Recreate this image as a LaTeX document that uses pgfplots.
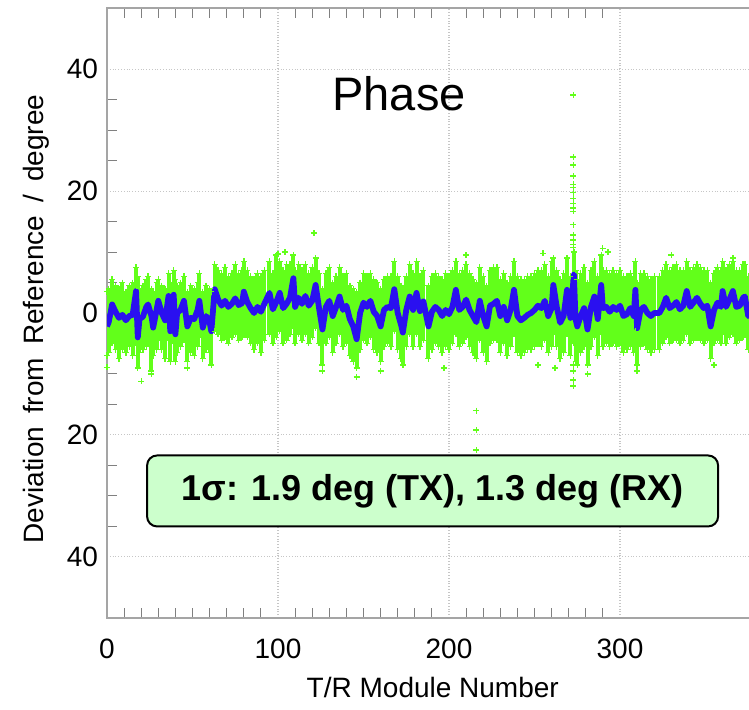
\documentclass[border=0pt]{standalone}
\usepackage{pgfplots}
\pgfplotsset{compat=1.18}
\usepackage{pgfplotstable}
\usepackage{fontspec}
\setmainfont{Liberation Sans}

\definecolor{ptgreen}{RGB}{98,255,26}
\definecolor{ptblue}{RGB}{42,16,240}
\definecolor{boxgreen}{RGB}{204,255,204}
\definecolor{framegray}{RGB}{165,165,165}

% module, blue running value, green upper / lower extent
\pgfplotstableread{
x b hi lo
0 -2.2 3.5 -7.0
1 -1.5 4.0 -6.5
3 1.4 5.5 -5.0
5 0.2 4.5 -6.0
7 -0.8 4.0 -7.5
9 -0.3 5.0 -6.0
11 -1.2 3.5 -6.5
13 -0.5 4.5 -5.5
15 -0.3 5.0 -7.0
17 3.6 7.5 -5.0
18 -4.0 6.0 -9.0
19 -1.0 4.0 -6.5
21 -0.6 4.5 -6.0
23 1.0 5.5 -5.5
24 1.4 6.0 -5.0
26 -0.5 4.0 -9.5
27 -2.4 3.5 -7.0
29 0.5 5.0 -6.0
30 2.0 5.5 -4.5
32 0.0 4.5 -6.0
34 -1.2 4.0 -7.5
36 2.8 6.5 -4.5
37 -3.0 5.0 -8.0
39 3.0 7.0 -5.0
40 -3.5 5.5 -8.0
41 0.0 4.5 -6.5
43 0.5 5.0 -5.5
45 2.0 6.0 -4.5
47 -2.2 3.5 -8.0
49 -0.8 4.5 -6.5
51 -1.0 4.0 -7.0
53 0.5 5.0 -5.5
54 2.0 6.5 -4.0
56 -2.4 3.5 -7.5
58 -0.5 4.5 -6.0
60 -1.5 4.0 -6.5
61 -3.0 3.5 -8.5
63 3.9 8.0 -3.0
65 2.2 7.0 -3.5
67 1.2 6.5 -4.5
69 2.0 7.5 -4.0
71 1.0 6.0 -5.0
73 1.5 6.5 -4.0
75 2.4 8.0 -3.5
77 1.3 6.5 -4.5
79 1.6 7.0 -4.0
80 3.5 8.5 -3.5
82 1.8 7.0 -4.0
84 0.8 6.0 -5.0
86 0.0 5.5 -6.0
88 1.0 6.5 -5.0
90 0.2 6.0 -6.5
92 1.5 7.0 -4.5
95 3.3 8.5 -3.5
97 0.6 6.5 -5.0
99 1.8 9.5 -4.0
101 3.3 8.5 -3.0
103 0.8 7.0 -5.0
105 1.5 8.0 -4.5
107 2.5 8.0 -3.5
109 5.7 9.5 -2.5
110 1.0 7.0 -5.0
112 2.5 8.0 -3.5
114 1.5 7.0 -4.5
116 2.8 8.0 -3.5
118 1.2 6.5 -5.0
120 2.0 7.5 -4.0
122 4.6 9.0 -2.5
124 0.8 6.5 -5.0
126 -2.7 4.0 -8.5
128 1.0 6.5 -5.0
130 2.0 7.5 -4.0
132 -0.5 5.0 -6.5
134 1.0 6.0 -5.0
136 2.7 7.5 -3.5
138 0.5 6.0 -5.5
140 1.2 6.5 -5.0
142 -1.0 4.5 -7.0
144 -2.2 4.0 -8.0
146 -4.3 3.5 -9.0
148 0.0 5.0 -6.0
150 1.7 6.5 -4.5
152 1.0 6.0 -5.0
154 2.0 6.5 -4.0
156 0.2 5.5 -6.0
158 -0.5 5.0 -6.5
160 -2.2 4.0 -8.0
162 0.5 5.5 -5.5
164 1.0 6.0 -5.0
166 0.8 6.0 -5.5
168 3.9 8.5 -3.0
170 0.0 6.0 -6.0
172 -2.0 4.5 -7.5
173 -3.2 4.0 -8.5
175 0.5 6.0 -5.5
177 2.7 8.0 -3.5
179 0.5 6.5 -5.5
181 3.3 8.5 -3.5
183 0.3 6.0 -5.5
185 1.9 7.0 -4.5
188 -2.2 4.5 -7.5
190 0.2 6.0 -6.0
192 1.0 6.5 -5.0
194 0.5 6.0 -5.5
196 -0.5 5.5 -6.5
198 0.5 6.5 -5.5
200 -0.2 6.0 -6.0
202 1.0 7.0 -5.0
204 3.8 8.5 -3.5
206 0.5 6.5 -5.5
208 1.0 7.0 -5.0
210 2.2 8.0 -4.0
212 0.5 6.5 -5.5
214 -0.5 5.5 -6.5
216 -1.5 5.0 -7.5
218 2.0 7.5 -4.5
220 -0.5 6.0 -6.5
222 -2.2 4.5 -8.0
224 1.2 7.0 -5.0
226 1.5 7.5 -4.5
228 2.0 7.5 -4.5
230 -0.5 5.5 -6.5
232 1.0 6.5 -5.0
234 -1.2 5.0 -7.0
236 0.5 6.0 -5.5
238 3.8 8.5 -3.5
240 -0.5 6.0 -6.5
242 -1.2 5.5 -7.0
244 -0.8 5.5 -6.5
246 -0.3 6.0 -6.0
248 0.0 6.0 -6.0
250 0.5 6.5 -5.5
252 1.2 7.0 -5.0
254 0.8 7.0 -5.5
256 2.0 8.0 -4.5
258 -0.5 6.0 -6.5
260 0.8 8.5 -5.5
261 4.6 9.0 -3.5
263 1.0 7.0 -5.5
265 -1.6 5.5 -7.5
267 -0.5 6.5 -6.5
269 3.8 9.0 -3.5
271 -0.8 6.0 -7.0
273 6.3 10.0 -5.0
274 -1.0 7.0 -8.0
275 -2.2 5.5 -8.5
277 -0.5 6.5 -6.5
279 0.8 7.5 -5.5
281 -2.7 5.0 -8.5
283 1.0 7.0 -5.5
285 2.7 8.5 -4.0
287 -1.0 6.0 -7.0
289 4.6 9.5 -3.5
290 0.8 7.0 -5.5
292 1.0 7.0 -5.0
294 0.2 6.5 -5.5
296 1.0 7.0 -5.0
298 0.5 6.5 -5.5
300 1.2 7.0 -5.0
302 -0.5 6.0 -6.5
304 -0.2 6.0 -6.0
306 0.8 6.5 -5.5
308 -0.5 6.0 -6.5
309 3.8 8.5 -3.0
310 -2.5 5.0 -8.5
312 0.5 6.5 -5.5
314 1.0 6.5 -5.0
316 0.0 6.0 -6.0
318 -0.5 5.5 -6.5
320 0.0 6.0 -6.0
323 0.0 6.0 -6.0
325 1.0 7.0 -5.0
327 2.5 8.0 -4.0
329 0.8 7.0 -5.0
331 1.2 7.5 -4.5
333 1.8 8.0 -4.5
335 0.6 7.0 -5.0
337 1.2 7.0 -4.5
339 3.6 8.5 -3.5
341 1.0 7.0 -5.0
343 1.7 7.5 -4.5
345 2.5 8.0 -4.0
347 1.5 7.5 -4.5
349 0.8 7.0 -5.0
351 1.2 7.0 -4.5
353 -2.2 5.0 -7.5
355 0.5 6.5 -5.0
357 1.7 7.5 -4.5
359 1.0 7.0 -5.0
360 3.6 8.5 -3.5
362 1.0 7.0 -5.0
364 2.2 8.0 -4.0
366 3.6 8.5 -3.5
368 1.0 7.0 -5.0
370 1.2 7.0 -4.5
372 2.5 8.0 -4.0
373 2.7 8.0 -3.5
375 -0.5 6.0 -6.0
377 0.5 6.5 -5.5
}\phase

% isolated green measurements away from the band
\pgfplotstableread{
x y
272.7 35.8
272.7 25.6
272.7 24.3
272.7 22.5
272.7 21.1
272.7 20.6
272.7 19.8
272.7 18.8
272.7 18.0
272.7 17.2
272.7 16.7
272.7 14.5
272.7 12.8
272.7 12.0
272.7 11.2
272.7 10.7
272.7 -8.5
272.7 -9.5
272.7 -11.0
272.7 -12.0
289.8 10.6
216 -16.0
216 -19.2
216 -22.5
121 13.1
0 -8.9
20 -11.2
26 -10.0
47 -9.0
100 9.7
104 10.0
126 -9.5
146 -10.5
160 -9.5
197 -9.0
210 9.5
252 -8.5
255 9.8
262 -9.0
281 -10.0
293 10.0
310 -9.5
330 9.5
355 -8.5
366 9.0
}\outliers

\begin{document}
\begin{tikzpicture}
\begin{axis}[
  scale only axis,
  width=323.2pt, height=304.7pt,
  xmin=0, xmax=378, ymin=-50, ymax=50,
  xtick={0,100,200,300},
  ytick={-40,-20,0,20,40},
  yticklabels={40,20,0,20,40},
  minor x tick num=9, minor y tick num=3,
  major tick length=0pt, minor tick length=5pt,
  tick align=inside,
  xtick pos=both, ytick pos=left,
  grid=major,
  major grid style={densely dotted, gray!45, line width=0.6pt},
  axis line style={framegray, line width=0.9pt},
  minor tick style={gray, line width=0.5pt},
  tick label style={font=\fontsize{14}{16}\selectfont},
  /pgf/number format/assume math mode=true,
  xticklabel style={yshift=-7pt},
  yticklabel style={xshift=-1pt},
  xlabel={T/R Module Number},
  ylabel={{\spaceskip=6.5pt Deviation from Reference / degree}},
  label style={font=\fontsize{14}{16}\selectfont},
  x label style={at={(axis description cs:0.504,-0.115)}, anchor=center},
  y label style={at={(axis description cs:-0.11,0.49)}, anchor=center},
]
\addplot[ycomb, ptgreen, line width=2pt, mark=+, mark size=1.5pt,
  mark options={line width=0.7pt}] table[x=x, y=hi] {\phase};
\addplot[ycomb, ptgreen, line width=2pt, mark=+, mark size=1.5pt,
  mark options={line width=0.7pt}] table[x=x, y=lo] {\phase};
\addplot[only marks, ptgreen, mark=+, mark size=1.5pt,
  mark options={line width=0.7pt}] table[x=x, y=y] {\outliers};
\addplot[ptblue, line width=2.9pt, line join=round] table[x=x, y=b] {\phase};

\node[font=\fontsize{23.5}{26}\selectfont] at (axis cs:170.8,36) {Phase};
\node[draw=black, line width=1pt, fill=boxgreen, rounded corners=5pt,
  minimum width=285.5pt, minimum height=35.5pt,
  font=\fontsize{18}{20}\selectfont\bfseries]
  at (axis cs:190.4,-29.2) {1σ: 1.9 deg (TX), 1.3 deg (RX)};
\end{axis}
\pgfresetboundingbox
\path[use as bounding box] ([shift={(-53.5pt,-45.65pt)}]current axis.south west)
  rectangle ([shift={(-2.2pt,4.15pt)}]current axis.north east);
\end{tikzpicture}
\end{document}
